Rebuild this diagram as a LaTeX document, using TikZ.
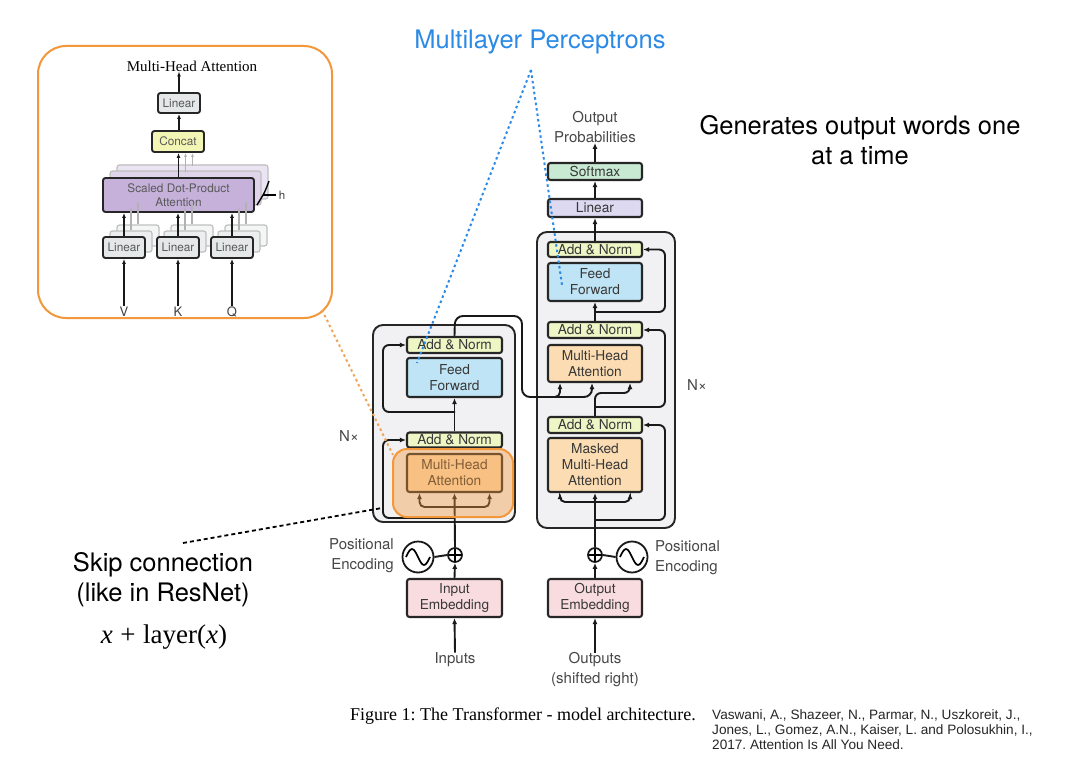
\documentclass[tikz,border=0pt]{standalone}
\usepackage{fontspec}
\setmainfont{Liberation Serif}
\setsansfont{TeX Gyre Heros}
\newfontfamily\refont{Liberation Sans}
\usetikzlibrary{arrows.meta,calc}
\frenchspacing
\definecolor{blockbg}{HTML}{F1F1F3}
\definecolor{anorm}{HTML}{EFF6C6}
\definecolor{ffblue}{HTML}{BFE4F5}
\definecolor{mhaor}{HTML}{FCDCB2}
\definecolor{embpink}{HTML}{F9DCE0}
\definecolor{smgreen}{HTML}{C8EAD2}
\definecolor{linpur}{HTML}{DCD9F1}
\definecolor{hlor}{HTML}{F2973A}
\definecolor{dotor}{HTML}{F0A65A}
\definecolor{mlpblue}{HTML}{2B8AE6}
\definecolor{inlin}{HTML}{E4E8E9}
\definecolor{incon}{HTML}{F3F5B4}
\definecolor{insdpa}{HTML}{C6B1DB}
\tikzset{
  box/.style={draw=black!85, line width=2.1pt, rounded corners=2.5pt, minimum width=95pt,
    align=center, inner sep=0pt, text=black!78,
    font=\sffamily\fontsize{13.7}{16}\selectfont},
  arr/.style={line width=1.9pt, draw=black!90, -{Latex[length=6pt,width=5pt]}},
  ln/.style={line width=1.9pt, draw=black!90},
  lbl/.style={font=\sffamily\fontsize{15}{20}\selectfont, text=black!72, align=center, inner sep=0pt},
  blockbox/.style={draw=black!85, line width=1.9pt, fill=blockbg, rounded corners=10pt},
  ibox/.style={draw=black!85, line width=1.9pt, rounded corners=2.5pt, align=center, inner sep=0pt,
    text=black!65, font=\sffamily\fontsize{11.8}{13.8}\selectfont},
  ishadow/.style={draw=black!25, line width=1.2pt, rounded corners=2.5pt},
  iarr/.style={line width=1.7pt, draw=black!90, -{Latex[length=5pt,width=4pt]}},
  farr/.style={line width=1.2pt, draw=black!30, -{Latex[length=4pt,width=3pt]}},
  big/.style={font=\sffamily\fontsize{25.5}{30}\selectfont, align=center, inner sep=0pt},
}
\begin{document}
\begin{tikzpicture}[x=1pt,y=-1pt]
\useasboundingbox (0,0) rectangle (1079,781);
\fill[white] (0,0) rectangle (1079,781);

% ---------------- Inset: Multi-Head Attention ----------------
\draw[draw=hlor, line width=2pt, fill=white, rounded corners=28pt] (38,46) rectangle (332,318);
\node[font=\fontsize{15}{18}\selectfont, inner sep=0pt] (inTitle) at (192,66) {Multi-Head Attention};
\node[ibox, fill=inlin, minimum width=42pt, minimum height=20pt] (inLin0) at (179,103) {Linear};
\node[ibox, fill=incon, minimum width=52pt, minimum height=21pt] (inCon) at (178,141.5) {Concat};
% SDPA shadows
\draw[ishadow, fill=insdpa!35] (117,165) rectangle (268,199);
\draw[ishadow, fill=insdpa!55] (110,171) rectangle (261,205);
\node[ibox, fill=insdpa, minimum width=151pt, minimum height=34pt] (inSDPA) at (178.5,195) {Scaled Dot-Product\\Attention};
% Linear shadows
\foreach \cx in {124,178,232} {
  \draw[ishadow, fill=inlin!40] (\cx-21+14,225) rectangle (\cx+21+14,246);
  \draw[ishadow, fill=inlin!70] (\cx-21+7,231) rectangle (\cx+21+7,252);
}
\node[ibox, fill=inlin, minimum width=42pt, minimum height=21pt] (inLinV) at (124,247.5) {Linear};
\node[ibox, fill=inlin, minimum width=42pt, minimum height=21pt] (inLinK) at (178,247.5) {Linear};
\node[ibox, fill=inlin, minimum width=42pt, minimum height=21pt] (inLinQ) at (232,247.5) {Linear};
\node[font=\sffamily\fontsize{13}{15}\selectfont, text=black!75, inner sep=1pt] (inV) at (124,312) {V};
\node[font=\sffamily\fontsize{13}{15}\selectfont, text=black!75, inner sep=1pt] (inK) at (178,312) {K};
\node[font=\sffamily\fontsize{13}{15}\selectfont, text=black!75, inner sep=1pt] (inQ) at (232,312) {Q};
\draw[iarr] (inV.north) -- (inLinV.south);
\draw[iarr] (inK.north) -- (inLinK.south);
\draw[iarr] (inQ.north) -- (inLinQ.south);
\foreach \n in {inLinV,inLinK,inLinQ} {
  \draw[farr] ($(\n.north)+(7,-6)$) -- ($(\n.north |- inSDPA.south)+(7,-6)$);
  \draw[farr] ($(\n.north)+(14,-12)$) -- ($(\n.north |- inSDPA.south)+(14,-12)$);
  \draw[iarr] (\n.north) -- (\n.north |- inSDPA.south);
}
\draw[farr] (185.5,172) -- (185.5,172 |- inCon.south);
\draw[farr] (192.5,166) -- (192.5,166 |- inCon.south);
\draw[iarr] (inSDPA.north) -- (inSDPA.north |- inCon.south);
\draw[iarr] (inCon.north -| inLin0) -- (inLin0.south);
\draw[iarr] (inLin0.north) -- (inTitle.south -| inLin0);
\draw[line width=1.4pt] (269,181) .. controls (265,192) .. (257,205);
\draw[line width=1.4pt] (263,195) -- (276,195);
\node[font=\sffamily\fontsize{11.5}{13}\selectfont, text=black!75, inner sep=0pt] (inH) at (282,195) {h};

% ---------------- Blocks ----------------
\draw[blockbox] (373,325) rectangle (515,522);
\draw[blockbox] (537,232) rectangle (675,528);

% ---------------- Encoder nodes ----------------
\node[box, fill=anorm, minimum height=16pt] (encAN2) at (454.5,345) {Add \& Norm};
\node[box, fill=ffblue, minimum height=39pt] (encFF) at (454.5,377.5) {Feed\\Forward};
\node[box, fill=anorm, minimum height=15pt] (encAN1) at (454.5,440) {Add \& Norm};
\node[box, fill=mhaor, minimum height=38pt] (encMHA) at (454.5,473) {Multi-Head\\Attention};
\node[box, fill=embpink, minimum height=38pt] (encEmb) at (454.5,598) {Input\\Embedding};
\node[circle, draw=black!90, line width=1.7pt, minimum size=14pt, inner sep=0pt] (encPlus) at (455,555) {};
\node[circle, draw=black!90, line width=1.8pt, minimum size=31pt, inner sep=0pt] (encPE) at (418,557) {};
\draw[line width=1.4pt] (448.5,555) -- (461.5,555) (455,548.5) -- (455,561.5);
\draw[line width=1.7pt] (406,557) sin (412,549) cos (418,557) sin (424,565) cos (430,557);
\node[lbl] (encIn) at (455,660) {Inputs};
\node[lbl, anchor=east, align=right] (encPEl) at (394,556) {Positional\\Encoding};
\node[font=\sffamily\fontsize{15}{18}\selectfont, text=black!72, inner sep=0pt] (encN) at (349,436) {N×};

% ---------------- Decoder nodes ----------------
\node[box, fill=anorm, minimum height=15pt, minimum width=94pt] (decAN3) at (595,249.5) {Add \& Norm};
\node[box, fill=ffblue, minimum height=38pt, minimum width=94pt] (decFF) at (595,282) {Feed\\Forward};
\node[box, fill=anorm, minimum height=16pt, minimum width=94pt] (decAN2) at (595,330) {Add \& Norm};
\node[box, fill=mhaor, minimum height=37pt, minimum width=94pt] (decMHA) at (595,363.5) {Multi-Head\\Attention};
\node[box, fill=anorm, minimum height=16pt, minimum width=94pt] (decAN1) at (595,425) {Add \& Norm};
\node[box, fill=mhaor, minimum height=54pt, minimum width=94pt] (decMMHA) at (595,465) {Masked\\Multi-Head\\Attention};
\node[box, fill=linpur, minimum height=18pt, minimum width=94pt] (decLin) at (595,208) {Linear};
\node[box, fill=smgreen, minimum height=17pt, minimum width=94pt] (decSoft) at (595,171.5) {Softmax};
\node[lbl] (outProb) at (595,127) {Output\\Probabilities};
\node[box, fill=embpink, minimum height=38pt, minimum width=94pt] (decEmb) at (595,598) {Output\\Embedding};
\node[circle, draw=black!90, line width=1.7pt, minimum size=14pt, inner sep=0pt] (decPlus) at (595,555) {};
\node[circle, draw=black!90, line width=1.8pt, minimum size=31pt, inner sep=0pt] (decPE) at (632,557) {};
\draw[line width=1.4pt] (588.5,555) -- (601.5,555) (595,548.5) -- (595,561.5);
\draw[line width=1.7pt] (620,557) sin (626,549) cos (632,557) sin (638,565) cos (644,557);
\node[lbl] (decOut) at (595,670) {Outputs\\(shifted right)};
\node[lbl, anchor=west, align=left] (decPEl) at (655,558) {Positional\\Encoding};
\node[font=\sffamily\fontsize{15}{18}\selectfont, text=black!72, inner sep=0pt] (decN) at (697,385) {N×};

% ---------------- Encoder connectors ----------------
\coordinate (eB1) at (455,518);
\coordinate (eB2) at (455,507);
\coordinate (eB3) at (455,412);
\draw[arr] (encIn.north) -- (encEmb.south);
\draw[arr] (encEmb.north) -- (encPlus.south);
\draw[ln] (encPE.east) -- (encPlus.west);
\draw[arr] (encPlus.north) -- (encMHA.south);
\draw[arr, rounded corners=6pt] (eB1) -- ++(-72,0) |- (encAN1.west);
\draw[arr, rounded corners=5pt] (eB2) -| ($(encMHA.south)+(-35,0)$);
\draw[arr, rounded corners=5pt] (eB2) -| ($(encMHA.south)+(35,0)$);
\draw[arr] (encAN1.north) -- (encFF.south);
\draw[arr, rounded corners=6pt] (eB3) -- ++(-72,0) |- (encAN2.west);

% ---------------- Decoder connectors ----------------
\coordinate (dB1) at (595,520);
\coordinate (dB2) at (595,502);
\coordinate (dB3) at (595,407);
\coordinate (dB4) at (595,312);
\coordinate (eOutB) at (546,397);
\draw[arr] (decOut.north) -- (decEmb.south);
\draw[arr] (decEmb.north) -- (decPlus.south);
\draw[ln] (decPE.west) -- (decPlus.east);
\draw[arr] (decPlus.north) -- (decMMHA.south);
\draw[arr, rounded corners=6pt] (dB1) -- ++(70,0) |- (decAN1.east);
\draw[arr, rounded corners=5pt] (dB2) -| ($(decMMHA.south)+(-35,0)$);
\draw[arr, rounded corners=5pt] (dB2) -| ($(decMMHA.south)+(35,0)$);
\draw[arr, rounded corners=6pt] (decAN1.north) -- (595,393) -| ($(decMHA.south)+(35,0)$);
\draw[arr, rounded corners=6pt] (dB3) -- ++(70,0) |- (decAN2.east);
\draw[arr, rounded corners=8pt] (encAN2.north) -- (455,316) -- (522,316) -- (522,397) -| ($(decMHA.south)+(-3,0)$);
\draw[arr, rounded corners=5pt] (eOutB) -| ($(decMHA.south)+(-35,0)$);
\draw[arr] (decAN2.north) -- (decFF.south);
\draw[arr, rounded corners=6pt] (dB4) -- ++(70,0) |- (decAN3.east);
\draw[arr] (decAN3.north) -- (decLin.south);
\draw[arr] (decLin.north) -- (decSoft.south);
\draw[arr] (decSoft.north) -- (outProb.south);

% ---------------- Highlight ----------------
\draw[draw=hlor, line width=2pt, fill=hlor, fill opacity=0.4, rounded corners=14pt] (393,449) rectangle (513,517);

% ---------------- Annotations ----------------
\node[big, text=mlpblue] (mlp) at (540,42) {Multilayer Perceptrons};
\coordinate (mlpApex) at (531,70);
\coordinate (encFFpt) at (417,363);
\coordinate (decFFpt) at (562,285);
\draw[mlpblue, line width=2pt, dash pattern=on 2.5pt off 3pt] (mlpApex) -- (encFFpt);
\draw[mlpblue, line width=2pt, dash pattern=on 2.5pt off 3pt] (mlpApex) -- (decFFpt);

\node[big] (gen) at (860,140) {Generates output words one\\at a time};

\coordinate (insetCorner) at (322,310);
\coordinate (hlEdge) at (393,455);
\draw[dotor, line width=2pt, dash pattern=on 2.5pt off 3pt] (insetCorner) -- (hlEdge);

\node[font=\sffamily\fontsize{25.5}{30}\selectfont, align=center, inner sep=0pt] (skip) at (163,580) {Skip connection\\(like in ResNet)};
\node[font=\fontsize{27}{30}\selectfont, inner sep=0pt] (skipf) at (164,637) {\textit{x}\;+\;layer(\textit{x})};
\coordinate (skipStart) at (183,543);
\coordinate (skipEnd) at (382,508);
\draw[black, line width=1.8pt, dash pattern=on 4pt off 3pt] (skipStart) -- (skipEnd);

\node[font=\fontsize{18}{21}\selectfont, anchor=west, inner sep=0pt] (cap) at (350,716) {Figure 1: The Transformer - model architecture.};
\node[font=\refont\fontsize{13.6}{15.2}\selectfont, anchor=north west, align=left, inner sep=0pt, text=black!85] (ref) at (712,709) {Vaswani, A., Shazeer, N., Parmar, N., Uszkoreit, J.,\\Jones, L., Gomez, A.N., Kaiser, L. and Polosukhin, I.,\\2017. Attention Is All You Need.};
\end{tikzpicture}
\end{document}
